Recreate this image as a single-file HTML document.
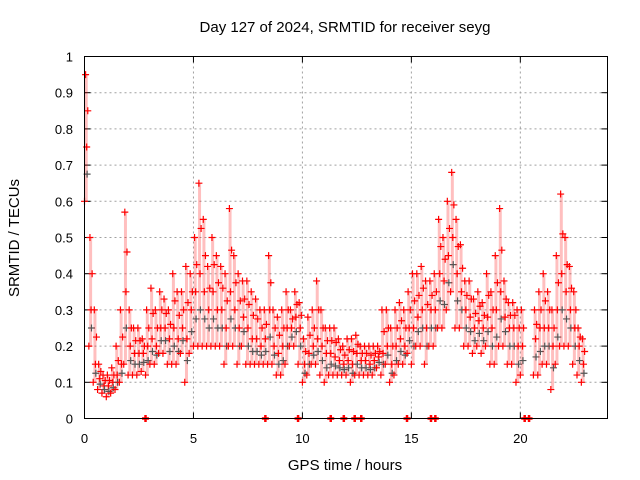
<!DOCTYPE html>
<html><head><meta charset="utf-8"><style>
body{margin:0;background:#fff}
svg{display:block;font-family:"Liberation Sans",sans-serif}
</style></head><body>
<svg id="chart" width="640" height="480" viewBox="0 0 640 480">
<rect width="640" height="480" fill="#fff"/>
<text x="345" y="32" font-size="15" text-anchor="middle">Day 127 of 2024, SRMTID for receiver seyg</text>
<text transform="translate(19,238) rotate(-90)" font-size="15" text-anchor="middle">SRMTID / TECUs</text>
<text x="345" y="470" font-size="15" text-anchor="middle">GPS time / hours</text>
<g id="grid"></g><g id="ticks"></g><g id="marks"></g>
<rect x="84.5" y="56.5" width="523" height="362" fill="none" stroke="#000" stroke-width="1"/>
</svg>
<script>
const xTicks=[0,5,10,15,20];
const yTicks=[0,0.1,0.2,0.3,0.4,0.5,0.6,0.7,0.8,0.9,1];
const yTickLabels=["0","0.1","0.2","0.3","0.4","0.5","0.6","0.7","0.8","0.9","1"];
const times=[0,0.2,0.4,0.6,0.8,1,1.2,1.4,1.6,1.8,2,2.2,2.4,2.6,2.8,3,3.2,3.4,3.6,3.8,4,4.2,4.4,4.6,4.8,5,5.2,5.4,5.6,5.8,6,6.2,6.4,6.6,6.8,7,7.2,7.4,7.6,7.8,8,8.2,8.4,8.6,8.8,9,9.2,9.4,9.6,9.8,10,10.2,10.4,10.6,10.8,11,11.2,11.4,11.6,11.8,12,12.2,12.4,12.6,12.8,13,13.2,13.4,13.6,13.8,14,14.2,14.4,14.6,14.8,15,15.2,15.4,15.6,15.8,16,16.2,16.4,16.6,16.8,17,17.2,17.4,17.6,17.8,18,18.2,18.4,18.6,18.8,19,19.2,19.4,19.6,19.8,20,20.6,20.8,21,21.2,21.4,21.6,21.8,22,22.2,22.4,22.6,22.8];
const lowVals=[.6,.2,.1,.08,.07,.06,.07,.08,.1,.15,.12,.12,.12,.13,.12,.15,.15,.18,.18,.15,.15,.15,.18,.1,.18,.2,.2,.2,.2,.2,.2,.2,.15,.2,.2,.15,.2,.15,.15,.15,.15,.15,.15,.15,.12,.12,.15,.2,.2,.15,.1,.12,.15,.15,.12,.1,.12,.12,.12,.12,.12,.1,.12,.12,.12,.12,.12,.14,.12,.15,.1,.12,.15,.15,.18,.15,.2,.2,.15,.2,.2,.25,.25,.3,.35,.25,.25,.2,.2,.18,.2,.18,.2,.15,.15,.2,.2,.15,.15,.1,.12,.12,.12,.15,.15,.08,.15,.2,.2,.2,.15,.12,.1];
const midVals=[.75,.3,.15,.11,.09,.09,.1,.12,.15,.35,.2,.18,.18,.18,.2,.22,.2,.25,.25,.22,.25,.22,.25,.22,.3,.35,.4,.35,.3,.35,.3,.3,.25,.35,.3,.25,.28,.25,.22,.22,.2,.22,.3,.2,.18,.2,.25,.25,.28,.25,.15,.18,.2,.22,.2,.18,.18,.17,.16,.15,.16,.15,.18,.16,.16,.15,.16,.17,.18,.2,.15,.2,.22,.2,.25,.25,.28,.3,.25,.3,.3,.4,.38,.45,.5,.4,.35,.3,.28,.25,.27,.25,.28,.25,.3,.35,.28,.25,.25,.2,.2,.22,.25,.25,.25,.2,.3,.4,.35,.3,.25,.2,.15];
const highVals=[.95,.5,.3,.15,.12,.12,.14,.2,.3,.57,.3,.25,.25,.22,.3,.36,.3,.35,.33,.3,.4,.35,.35,.42,.4,.5,.65,.55,.42,.5,.45,.42,.4,.58,.45,.4,.38,.38,.35,.33,.3,.3,.45,.3,.28,.3,.35,.3,.35,.32,.22,.28,.3,.38,.3,.25,.25,.25,.22,.2,.22,.22,.23,.2,.2,.2,.2,.2,.3,.3,.25,.3,.32,.3,.35,.4,.4,.42,.38,.38,.4,.55,.5,.6,.68,.55,.48,.38,.38,.33,.35,.32,.4,.35,.45,.58,.38,.32,.32,.3,.3,.3,.35,.4,.35,.3,.45,.62,.5,.42,.35,.25,.22];
const zeroTimes=[2.8,8.3,9.8,11.3,11.9,12.4,12.7,14.8,15.9,16.1,20.2,20.4];

const NS="http://www.w3.org/2000/svg";
const X0=84.5,X1=607.5,Y0=418.5,Y1=56.5,XMAX=24;
const sx=t=>X0+(X1-X0)*t/XMAX;
const sy=v=>Y0-(Y0-Y1)*v;
function mk(tag,attrs,parent){const e=document.createElementNS(NS,tag);for(const k in attrs)e.setAttribute(k,attrs[k]);parent.appendChild(e);return e;}
const grid=document.getElementById('grid'),ticks=document.getElementById('ticks'),marks=document.getElementById('marks');
xTicks.forEach((t,i)=>{
  const x=sx(t);
  if(t>0){const g=mk('line',{x1:x,x2:x,y1:Y1,y2:Y0,stroke:'#a0a0a0','stroke-dasharray':'2,3'},grid);
  
  }
  mk('line',{x1:x,x2:x,y1:Y0,y2:Y0-6,stroke:'#000'},ticks);
  mk('line',{x1:x,x2:x,y1:Y1,y2:Y1+6,stroke:'#000'},ticks);
  const l=mk('text',{x:x,y:443,'font-size':13,'text-anchor':'middle'},ticks);l.textContent=t;
  
  
});
yTicks.forEach((v,i)=>{
  const y=sy(v);
  if(v>0&&v<1){const g=mk('line',{x1:X0,x2:X1,y1:y,y2:y,stroke:'#a0a0a0','stroke-dasharray':'2,3'},grid);
  
  }
  mk('line',{x1:X0,x2:X0+6,y1:y,y2:y,stroke:'#000'},ticks);
  mk('line',{x1:X1,x2:X1-6,y1:y,y2:y,stroke:'#000'},ticks);
  const l=mk('text',{x:73,y:y+5,'font-size':13,'text-anchor':'end'},ticks);l.textContent=yTickLabels[i];
  
  
});
function plus(t,v,color,w){
  const x=sx(t),y=sy(v);
  const p=mk('path',{d:`M${x-3.5},${y}h7M${x},${y-3.5}v7`,stroke:color,'stroke-width':w||1.2,fill:'none'},marks);
  
  
}
times.forEach((t,i)=>{
  const r=mk('line',{x1:sx(t+0.08),x2:sx(t+0.08),y1:sy(lowVals[i]),y2:sy(highVals[i]),stroke:'#f00','stroke-width':3,'stroke-opacity':0.25},marks);
  
  
  plus(t,lowVals[i],'#f00');
  plus(t+0.1,midVals[i],'#f00');
  plus(t+0.05,highVals[i],'#f00');
  plus(t+0.15,midVals[i]+(highVals[i]-midVals[i])*0.5,'#f00');
  plus(t+0.12,lowVals[i]+(midVals[i]-lowVals[i])*0.5,'#555');
});
zeroTimes.forEach(t=>plus(t,0,'#f00',2.5));
</script>
</body></html>
